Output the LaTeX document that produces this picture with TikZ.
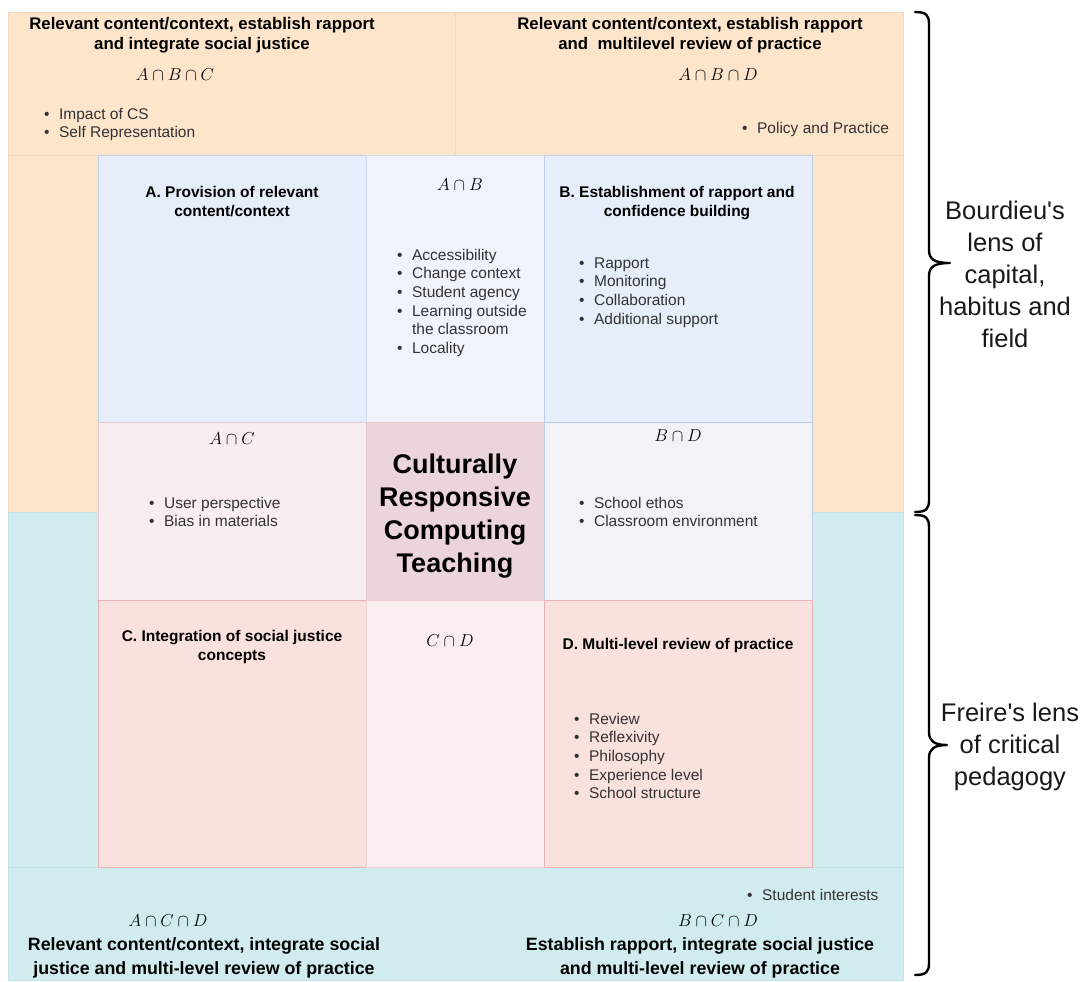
\RequirePackage{fix-cm}
\documentclass[tikz,border=0pt]{standalone}
\usepackage{fontspec}
\setmainfont{Liberation Sans}[Ligatures=TeXOff]
\definecolor{orng}{HTML}{FDE5CC}
\definecolor{orngline}{HTML}{F4D8BC}
\definecolor{cyanbg}{HTML}{D0ECEF}
\definecolor{cyanline}{HTML}{C2E3E7}
\definecolor{blucell}{HTML}{E6EEFB}
\definecolor{blulite}{HTML}{EEF3FC}
\definecolor{bluline}{HTML}{BCCDE6}
\definecolor{pinklite}{HTML}{F9EEEF}
\definecolor{pinkmid}{HTML}{EBD5D8}
\definecolor{lavcell}{HTML}{F3F2F8}
\definecolor{redcell}{HTML}{F9E1DE}
\definecolor{redlite}{HTML}{FCEEEE}
\definecolor{redline}{HTML}{E6B4B2}
\definecolor{pinkline}{HTML}{E8CACE}
\definecolor{bultext}{HTML}{333333}
\newcommand{\mctab}[1]{\begin{tabular}[t]{@{}c@{}}#1\end{tabular}}
\newcommand{\mbtab}[1]{\begin{tabular}[t]{@{}l@{\hspace{9.5pt}}l@{}}#1\end{tabular}}
\begin{document}
\begin{tikzpicture}[x=1pt,y=-1pt,
  region/.style={line width=0.6pt},
  cellbox/.style={line width=0.8pt},
  tophdr/.style={inner sep=0pt, anchor=base, text=black, font=\fontsize{16.8}{20}\selectfont\bfseries},
  bothdr/.style={inner sep=0pt, anchor=base, text=black, font=\fontsize{17.8}{24}\selectfont\bfseries},
  cellhdr/.style={inner sep=0pt, anchor=base, text=black, font=\fontsize{15.5}{19}\selectfont\bfseries},
  mathlbl/.style={inner sep=0pt, anchor=base, text=black, font=\fontsize{17.28}{20}\selectfont},
  bullets/.style={inner sep=0pt, anchor=base west, text=bultext, font=\fontsize{15.5}{18.7}\selectfont},
  centertxt/.style={inner sep=0pt, anchor=base, text=black, font=\fontsize{27}{33.3}\selectfont\bfseries},
  lenslbl/.style={inner sep=0pt, anchor=base, text=black!90, font=\fontsize{25.5}{32}\selectfont},
  bracestroke/.style={line width=2.4pt, black, line cap=round, line join=round}
]
\useasboundingbox (0,0) rectangle (1080,982);
\fill[white] (0,0) rectangle (1080,982);
% background regions
\filldraw[region, fill=orng, draw=orngline] (8,12) rectangle (903,512);
\filldraw[region, fill=orng, draw=orngline] (8,12) rectangle (455,155);
\filldraw[region, fill=orng, draw=orngline] (455,12) rectangle (903,155);
\filldraw[region, fill=cyanbg, draw=cyanline] (8,512) rectangle (903,980);
\filldraw[region, fill=cyanbg, draw=cyanline] (8,867) rectangle (903,980);
% grid cells
\filldraw[cellbox, fill=blucell, draw=bluline] (98,155) rectangle (366,422);
\filldraw[cellbox, fill=blulite, draw=bluline!70] (366,155) rectangle (544,422);
\filldraw[cellbox, fill=blucell, draw=bluline] (544,155) rectangle (812,422);
\filldraw[cellbox, fill=pinklite, draw=pinkline] (98,422) rectangle (366,600);
\filldraw[cellbox, fill=pinkmid, draw=pinkline] (366,422) rectangle (544,600);
\filldraw[cellbox, fill=lavcell, draw=bluline] (544,422) rectangle (812,600);
\filldraw[cellbox, fill=redcell, draw=redline] (98,600) rectangle (366,867);
\filldraw[cellbox, fill=redlite, draw=redline!60] (366,600) rectangle (544,867);
\filldraw[cellbox, fill=redcell, draw=redline] (544,600) rectangle (812,867);

% top headers
\node[tophdr] (hABC) at (202,30) {\mctab{Relevant content/context, establish rapport\\and integrate social justice}};
\node[mathlbl] (mABC) at (175,81) {$A\cap B\cap C$};
\node[bullets] (lABC) at (44,119) {\mbtab{\textbullet & Impact of CS\\ \textbullet & Self Representation\\}};

\node[tophdr] (hABD) at (690,30) {\mctab{Relevant content/context, establish rapport\\and\ \ multilevel review of practice}};
\node[mathlbl] (mABD) at (718,81) {$A\cap B\cap D$};
\node[bullets] (lABD) at (742,133) {\mbtab{\textbullet & Policy and Practice\\}};

% row 1
\node[cellhdr] (hA) at (232,197) {\mctab{A. Provision of relevant\\content/context}};
\node[mathlbl] (mAB) at (460,190) {$A\cap B$};
\node[bullets] (lAB) at (397,260) {\mbtab{\textbullet & Accessibility\\ \textbullet & Change context\\ \textbullet & Student agency\\ \textbullet & Learning outside\\ & the classroom\\ \textbullet & Locality\\}};
\node[cellhdr] (hB) at (677,197) {\mctab{B. Establishment of rapport and\\confidence building}};
\node[bullets] (lB) at (579,268) {\mbtab{\textbullet & Rapport\\ \textbullet & Monitoring\\ \textbullet & Collaboration\\ \textbullet & Additional support\\}};

% row 2
\node[mathlbl] (mAC) at (232,444) {$A\cap C$};
\node[bullets] (lAC) at (149,508) {\mbtab{\textbullet & User perspective\\ \textbullet & Bias in materials\\}};
\node[centertxt] (crct) at (455,473) {\mctab{Culturally\\Responsive\\Computing\\Teaching}};
\node[mathlbl] (mBD) at (678,441) {$B\cap D$};
\node[bullets] (lBD) at (579,508) {\mbtab{\textbullet & School ethos\\ \textbullet & Classroom environment\\}};

% row 3
\node[cellhdr] (hC) at (232,641) {\mctab{C. Integration of social justice\\concepts}};
\node[mathlbl] (mCD) at (450,646) {$C\cap D$};
\node[cellhdr] (hD) at (678,649.5) {D. Multi-level review of practice};
\node[bullets] (lD) at (574,724) {\mbtab{\textbullet & Review\\ \textbullet & Reflexivity\\ \textbullet & Philosophy\\ \textbullet & Experience level\\ \textbullet & School structure\\}};

% bottom strip
\node[bullets] (lBCD) at (747,900) {\mbtab{\textbullet & Student interests\\}};
\node[mathlbl] (mACD) at (168,926) {$A\cap C\cap D$};
\node[mathlbl] (mBCD) at (718,926) {$B\cap C\cap D$};
\node[bothdr] (hACD) at (204,950) {\mctab{Relevant content/context, integrate social\\justice and multi-level review of practice}};
\node[bothdr] (hBCD) at (700,950) {\mctab{Establish rapport, integrate social justice\\and multi-level review of practice}};

% braces (drawn as shapes) and lens labels
\draw[bracestroke] (915,12) .. controls (926,12) and (929,15) .. (929,24)
  -- (929,250) .. controls (929,259) and (934,263) .. (950,263)
  .. controls (934,263) and (929,267) .. (929,276)
  -- (929,500) .. controls (929,509) and (926,512) .. (915,512);
\draw[bracestroke] (915,515) .. controls (926,515) and (929,518) .. (929,527)
  -- (929,732) .. controls (929,741) and (934,745) .. (947,745)
  .. controls (934,745) and (929,749) .. (929,758)
  -- (929,963) .. controls (929,972) and (926,975) .. (915,975);
\node[lenslbl] (bourdieu) at (1005,219) {\mctab{Bourdieu's\\lens of\\capital,\\habitus and\\field}};
\node[lenslbl] (freire) at (1010,721) {\mctab{Freire's lens\\of critical\\pedagogy}};
\end{tikzpicture}
\end{document}
